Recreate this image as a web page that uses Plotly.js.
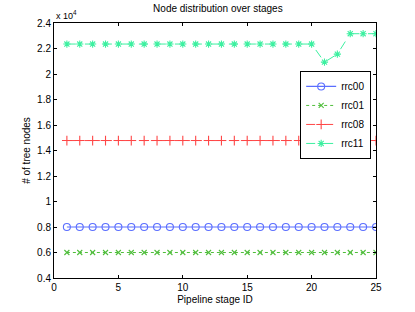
<!DOCTYPE html>
<html>
<head>
<meta charset="utf-8">
<script src="https://cdn.plot.ly/plotly-3.0.1.min.js"></script>
<style>html,body{margin:0;padding:0;background:#fff;}#chart{width:415px;height:312px;}</style>
</head>
<body>
<div id="chart"></div>
<script>
const stages = [1,2,3,4,5,6,7,8,9,10,11,12,13,14,15,16,17,18,19,20,21,22,23,24,25];
const rrc00 = [8000,8000,8000,8000,8000,8000,8000,8000,8000,8000,8000,8000,8000,8000,8000,8000,8000,8000,8000,8000,8000,8000,8000,8000,8000];
const rrc01 = [6000,6000,6000,6000,6000,6000,6000,6000,6000,6000,6000,6000,6000,6000,6000,6000,6000,6000,6000,6000,6000,6000,6000,6000,6000];
const rrc08 = [14780,14780,14780,14780,14780,14780,14780,14780,14780,14780,14780,14780,14780,14780,14780,14780,14780,14780,14780,14780,14780,14780,14780,14780,14780];
const rrc11 = [22350,22350,22350,22350,22350,22350,22350,22350,22350,22350,22350,22350,22350,22350,22350,22350,22350,22350,22350,22350,20930,21560,23160,23160,23160];
const yTickVals = [4000,6000,8000,10000,12000,14000,16000,18000,20000,22000,24000];
const yTickText = ['0.4','0.6','0.8','1','1.2','1.4','1.6','1.8','2','2.2','2.4'];
const xTickVals = [0,5,10,15,20,25];

const fam = 'Liberation Sans, Arial, sans-serif';
const font = {family: fam, size: 10, color: '#000'};
const traces = [
  {x: stages, y: rrc00, name: 'rrc00', mode: 'lines+markers',
   line: {color: 'rgb(90,110,255)', width: 1.2, dash: 'solid'},
   marker: {symbol: 'circle-open', size: 7, color: 'rgb(90,110,255)', line: {width: 1.1}}},
  {x: stages, y: rrc01, name: 'rrc01', mode: 'lines+markers',
   line: {color: 'rgb(80,190,60)', width: 1, dash: 'dot'},
   marker: {symbol: 'x-thin-open', size: 5, color: 'rgb(80,190,60)', line: {width: 1.1, color: 'rgb(80,190,60)'}}},
  {x: stages, y: rrc08, name: 'rrc08', mode: 'lines+markers',
   line: {color: 'rgb(255,70,70)', width: 1, dash: 'dashdot'},
   marker: {symbol: 'cross-thin-open', size: 7, color: 'rgb(255,70,70)', line: {width: 1.1, color: 'rgb(255,70,70)'}}},
  {x: stages, y: rrc11, name: 'rrc11', mode: 'lines+markers',
   line: {color: 'rgb(60,240,160)', width: 1, dash: 'dash'},
   marker: {symbol: 'asterisk-open', size: 6, color: 'rgb(60,240,160)', line: {width: 1.1, color: 'rgb(60,240,160)'}}}
];
const layout = {
  width: 415, height: 312,
  margin: {l: 54, r: 39, t: 23, b: 34},
  paper_bgcolor: '#fff', plot_bgcolor: '#fff',
  font: font,
  showlegend: true,
  title: {text: 'Node distribution over stages', font: font, x: 0.525, xanchor: 'center', y: 0.985, yanchor: 'top'},
  xaxis: {range: [0, 25], tickvals: xTickVals, ticks: 'inside', ticklen: 3, tickcolor: '#000',
          showline: true, linecolor: '#000', linewidth: 1, mirror: 'ticks', showgrid: false, zeroline: false,
          tickfont: font,
          title: {text: 'Pipeline stage ID', font: font, standoff: 3}},
  yaxis: {range: [4000, 24000], tickvals: yTickVals, ticktext: yTickText, ticks: 'inside', ticklen: 3, tickcolor: '#000',
          showline: true, linecolor: '#000', linewidth: 1, mirror: 'ticks', showgrid: false, zeroline: false,
          tickfont: font,
          title: {text: '# of tree nodes', font: font, standoff: 4}},
  legend: {x: 0.985, xanchor: 'right', y: 0.812, yanchor: 'top', bgcolor: '#fff', bordercolor: '#000', borderwidth: 1,
           font: font, tracegroupgap: 0, itemwidth: 30},
  annotations: [{xref: 'paper', yref: 'paper', x: 0, y: 1, xanchor: 'left', yanchor: 'bottom', showarrow: false,
                 text: 'x 10<sup>4</sup>', font: {family: fam, size: 9, color: '#000'}}]
};
Plotly.newPlot('chart', traces, layout, {displayModeBar: false, staticPlot: true});
</script>
</body>
</html>
